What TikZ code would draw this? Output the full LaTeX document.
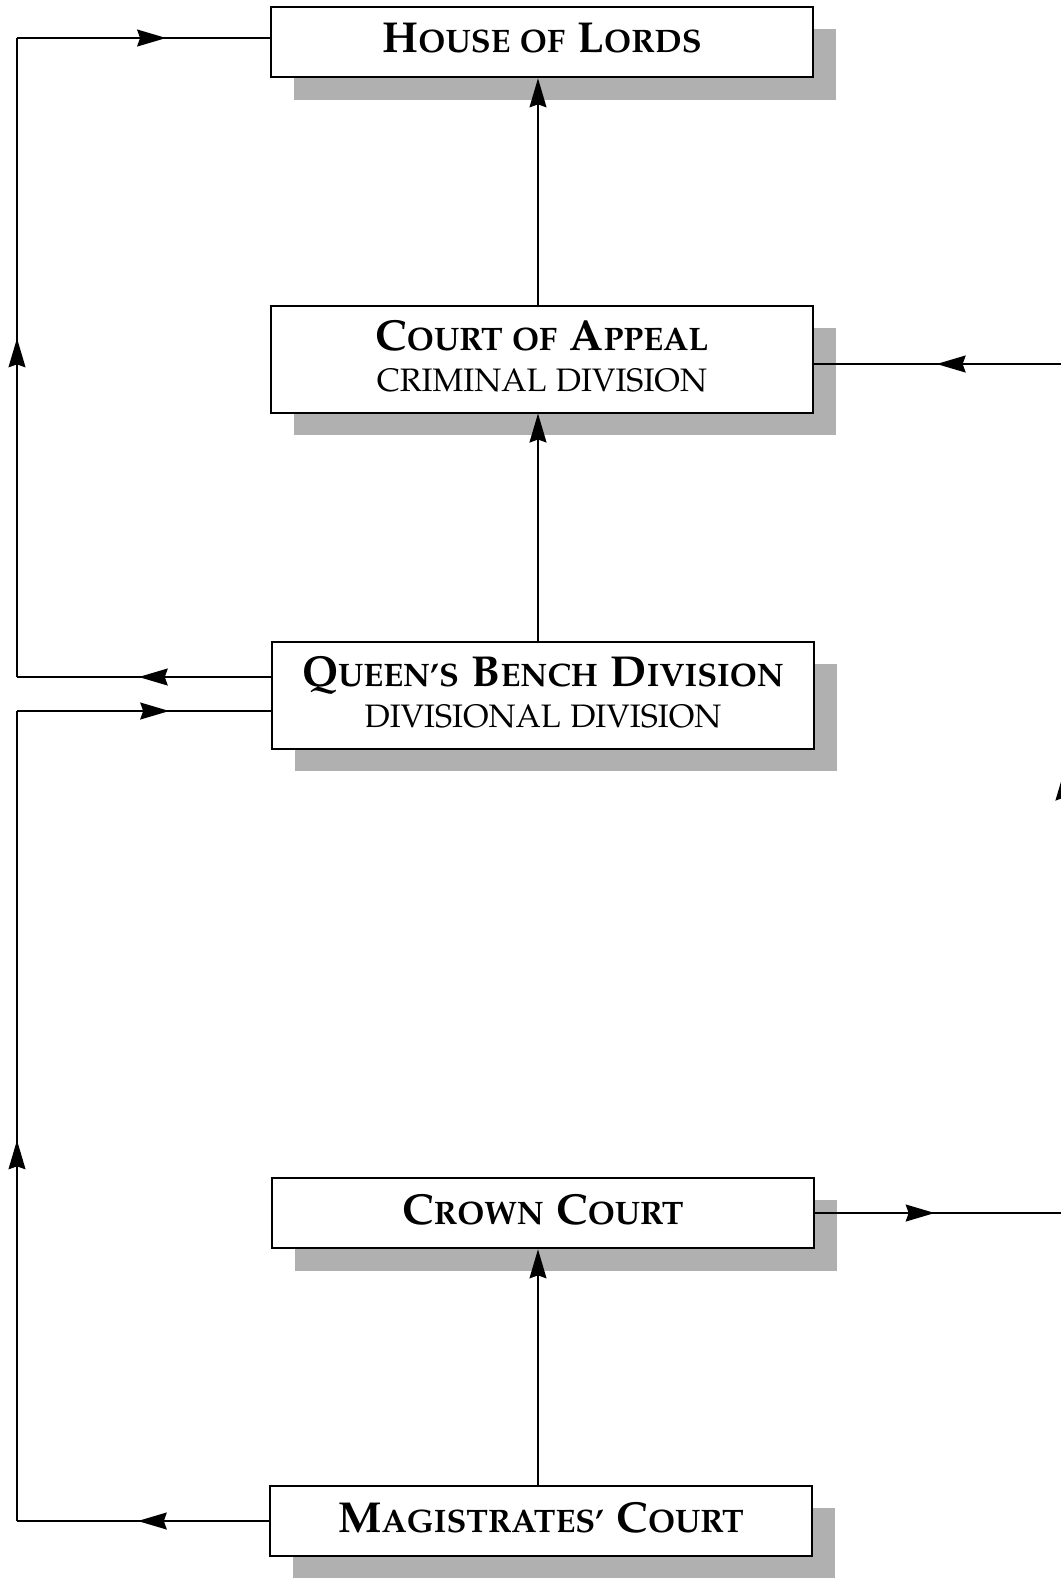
\documentclass[tikz,border=0pt]{standalone}
\usepackage[T1]{fontenc}
\usepackage[sc]{mathpazo}
\usepackage{tikz}
\usetikzlibrary{arrows.meta, calc, shadows}
\usetikzlibrary{decorations.markings}
\definecolor{shadowGray}{rgb}{0.69, 0.69, 0.69}
\newcommand{\lowcaps}[1]{{\fontsize{9.75}{12}\selectfont\MakeUppercase{#1}}}
\newcommand{\courtname}[1]{{\bfseries #1}}
\newcommand{\courtdiv}[1]{{\fontsize{9.75}{12}\selectfont\MakeUppercase{#1}}}
\tikzset{
  court/.style={draw, line width=0.6pt, fill=white, inner sep=0pt,
    minimum width=162.8pt, minimum height=21.2pt, align=center,
    font=\fontsize{13}{12.3}\selectfont,
    execute at end node={\rule[-2.2pt]{0pt}{0pt}},
    drop shadow={shadow xshift=6.9pt, shadow yshift=-6.8pt, fill=shadowGray, opacity=1}},
  court2/.style={court, minimum height=32.1pt},
  wire/.style={line width=0.45pt},
  midarrow/.style={postaction={decorate}, decoration={markings,
    mark=at position #1 with {\arrow{Stealth[length=8.7pt, width=5.1pt, inset=0.9pt]}}}},
  tipup/.style={-{Stealth[length=8.7pt, width=5.1pt, inset=0.9pt]}}
}

\begin{document}
\begin{tikzpicture}[x=0.3pt, y=-0.3pt]
  \useasboundingbox (0,0) rectangle (1061,1578);

  % the courts
  \node[court]  (hol)   at (542,42)   {\courtname{H\lowcaps{ouse of} L\lowcaps{ords}}};
  \node[court2] (coa)   at (542,359)  {\courtname{C\lowcaps{ourt of} A\lowcaps{ppeal}}\\\courtdiv{Criminal Division}};
  \node[court2] (qbd)   at (543,695)  {\courtname{Q\lowcaps{ueen's} B\lowcaps{ench} D\lowcaps{ivision}}\\\courtdiv{Divisional Division}};
  \node[court]  (crown) at (543,1213) {\courtname{C\lowcaps{rown} C\lowcaps{ourt}}};
  \node[court]  (mags)  at (541,1521) {\courtname{M\lowcaps{agistrates'} C\lowcaps{ourt}}};

  % corners of the side routes
  \coordinate (spine) at (538,0);
  \coordinate (lt)  at (17,38);
  \coordinate (lq)  at (17,677);
  \coordinate (lqb) at (17,711);
  \coordinate (lm)  at (17,1521);
  \coordinate (rc)  at (1064,1213);
  \coordinate (ra)  at (1064,364);

  \draw[wire, tipup] (coa.north -| spine) -- (hol.south -| spine);
  \draw[wire, tipup] (qbd.north -| spine) -- (coa.south -| spine);
  \draw[wire, tipup] (mags.north -| spine) -- (crown.south -| spine);

  \draw[wire, midarrow=0.52] (qbd.west |- lq) -- (lq);
  \draw[wire, midarrow=0.53] (lq) -- (lt);
  \draw[wire, midarrow=0.59] (lt) -- (hol.west |- lt);

  \draw[wire, midarrow=0.52] (mags.west) -- (lm);
  \draw[wire, midarrow=0.47] (lm) -- (lqb);
  \draw[wire, midarrow=0.60] (lqb) -- (qbd.west |- lqb);

  \draw[wire, midarrow=0.48] (crown.east) -- (rc);
  \draw[wire, midarrow=0.52] (rc) -- (ra);
  \draw[wire, midarrow=0.51] (ra) -- (coa.east |- ra);

\end{tikzpicture}
\end{document}
